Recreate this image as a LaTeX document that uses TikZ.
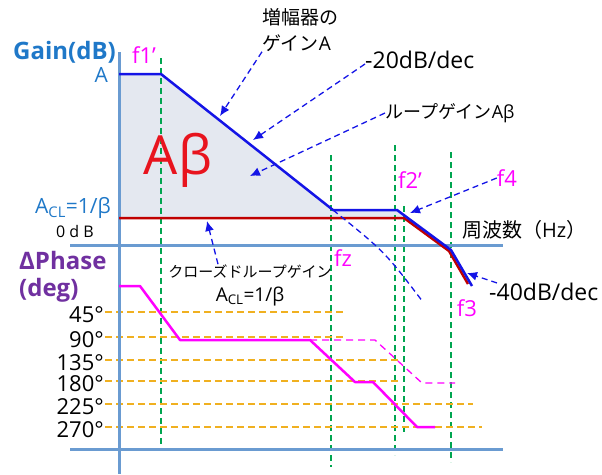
\documentclass[tikz,border=0pt]{standalone}
\usepackage{fontspec}
\setmainfont{Open Sans}
\newfontfamily\jp{Noto Sans CJK JP}
\usetikzlibrary{arrows.meta}
\definecolor{axisblue}{HTML}{6A9BD1}
\definecolor{gainblue}{HTML}{1414E6}
\definecolor{labelblue}{HTML}{1F78C8}
\definecolor{clred}{HTML}{C00000}
\definecolor{abred}{HTML}{E8141E}
\definecolor{phasepink}{HTML}{FF00FF}
\definecolor{fgreen}{HTML}{00A550}
\definecolor{levelorange}{HTML}{F0B020}
\definecolor{phasepurple}{HTML}{7030A0}
\definecolor{fillgray}{HTML}{E4E8F0}
\begin{document}
\begin{tikzpicture}[x=1pt,y=-1pt,line join=round]
        % Styles
        \tikzstyle{axes}=[draw=axisblue,line width=3pt]
        \tikzstyle{freq line}=[draw=fgreen,line width=1.5pt,dash pattern=on 6pt off 4pt]
        \tikzstyle{level line}=[draw=levelorange,line width=1.6pt,dash pattern=on 7pt off 4pt]
        \tikzstyle{leader}=[draw=gainblue,line width=1.3pt,dash pattern=on 6pt off 4pt,-{Latex[length=10pt,width=9pt]}]
        \tikzstyle{freq text}=[text=phasepink,font=\fontsize{22}{24}\selectfont,inner sep=0pt]
        \tikzstyle{info text}=[text=black,font=\fontsize{18}{26}\selectfont,inner sep=0pt]
        \tikzstyle{slope text}=[text=black,font=\fontsize{23}{26}\selectfont,inner sep=0pt]
        \tikzstyle{axis text}=[text=labelblue,font=\fontsize{21}{24}\selectfont,inner sep=0pt]
        \useasboundingbox (0,0) rectangle (602,474);
        %The graphic
        %loop gain area
        \fill[fillgray] (119,74) -- (161,74) -- (333,210) -- (397,210) -- (408,218) -- (119,218) -- cycle;
        %frequencies
        \foreach \x/\ytop/\ybot in {161/58/447, 331/155/467, 395/145/455, 404/206/435, 451/152/462}
            \draw[freq line] (\x,\ytop) -- (\x,\ybot);
        %phase levels
        \foreach \y/\ytext/\xend in {312/45/343, 337/90/343, 360/135/398, 381/180/398, 404/225/473, 427/270/482}
        {
            \node[anchor=east,font=\fontsize{22}{24}\selectfont,inner sep=0pt] (deg\ytext) at (104,\y+3) {\ytext°};
            \draw[level line] (105,\y) -- (\xend,\y);
        }
        %axes
        \begin{scope}[style=axes]
            \draw (119,52) -- (119,474);
            \draw (70,245) -- (503,245);
            \draw (70,449) -- (503,449);
        \end{scope}
        \node[axis text,font=\fontsize{24}{26}\selectfont\bfseries,anchor=east] (gain) at (116,52) {Gain(dB)};
        \node[axis text,anchor=east] (alevel) at (108,75) {A};
        \node[axis text,anchor=east] (acl) at (111,208) {A\textsubscript{CL}=1/β};
        \node[font=\fontsize{16}{18}\selectfont,inner sep=0pt] (zerodb) at (75,231) {0 d B};
        \node[text=phasepurple,font=\fontsize{24}{27}\selectfont\bfseries,align=left,anchor=west,inner sep=0pt] (phase) at (19,277) {ΔPhase\\(deg)};
        %gain curves
        \draw[clred,line width=2.5pt] (119,218) -- (404,218) -- (449,251) -- (468,284);
        \draw[gainblue,line width=2.5pt] (119,74) -- (161,74) -- (333,210) -- (397,210) -- (451,250) -- (472,286);
        \draw[gainblue,line width=1.3pt,dash pattern=on 6pt off 4pt] (333,210) .. controls (385,252) .. (423,302);
        %phase curves
        \draw[phasepink,line width=1.3pt,dash pattern=on 7pt off 5pt] (310,340) -- (375,340) -- (422,383) -- (455,383);
        \draw[phasepink,line width=2.5pt] (119,286) -- (140,286) -- (180,340) -- (310,340) -- (355,382) -- (373,382) -- (417,427) -- (435,427);
        %labels
        \node[text=abred,font=\fontsize{54}{54}\selectfont,inner sep=0pt] (ab) at (178,160) {Aβ};
        \node[freq text] (f1) at (144,55) {f1’};
        \node[freq text] (fz) at (343,258) {fz};
        \node[freq text] (f2) at (410,180) {f2’};
        \node[freq text] (f4) at (507,178) {f4};
        \node[freq text] (f3) at (467,308) {f3};
        \node[info text,font=\fontsize{19}{26}\selectfont,align=left,anchor=west] (ampgain) at (262,30) {\jp 増幅器の\\\jp ゲイン\fontspec{Open Sans}A};
        \node[slope text,anchor=west] (slope20) at (365,60) {-20dB/dec};
        \node[info text,anchor=west] (loopgain) at (385,113) {{\jp ループゲイン}Aβ};
        \node[info text,font=\fontsize{20}{24}\selectfont,anchor=west] (freq) at (462,230) {{\jp 周波数（}Hz{\jp ）}};
        \node[slope text,anchor=west] (slope40) at (489,292) {-40dB/dec};
        \node[info text,font=\fontsize{15}{24}\selectfont,align=center] (clgain) at (250,285) {{\jp クローズドループゲイン}\\{\fontsize{19}{24}\selectfont A\textsubscript{CL}=1/β}};
        %pointers
        \coordinate (ampgain tip) at (220,116);
        \coordinate (slope20 tip) at (253,140);
        \coordinate (loopgain tip) at (250,176);
        \coordinate (f4 tip) at (410,213);
        \coordinate (slope40 tip) at (467,273);
        \coordinate (clgain tip) at (207,221);
        \draw[leader] (ampgain.south west) -- (ampgain tip);
        \draw[leader] ([yshift=-4pt]slope20.west) -- (slope20 tip);
        \draw[leader] (loopgain.west) -- (loopgain tip);
        \draw[leader] (f4.west) -- (f4 tip);
        \draw[leader] ([xshift=8pt]slope40.north west) -- (slope40 tip);
        \draw[leader] ([xshift=-32pt]clgain.north) -- (clgain tip);
\end{tikzpicture}
\end{document}
